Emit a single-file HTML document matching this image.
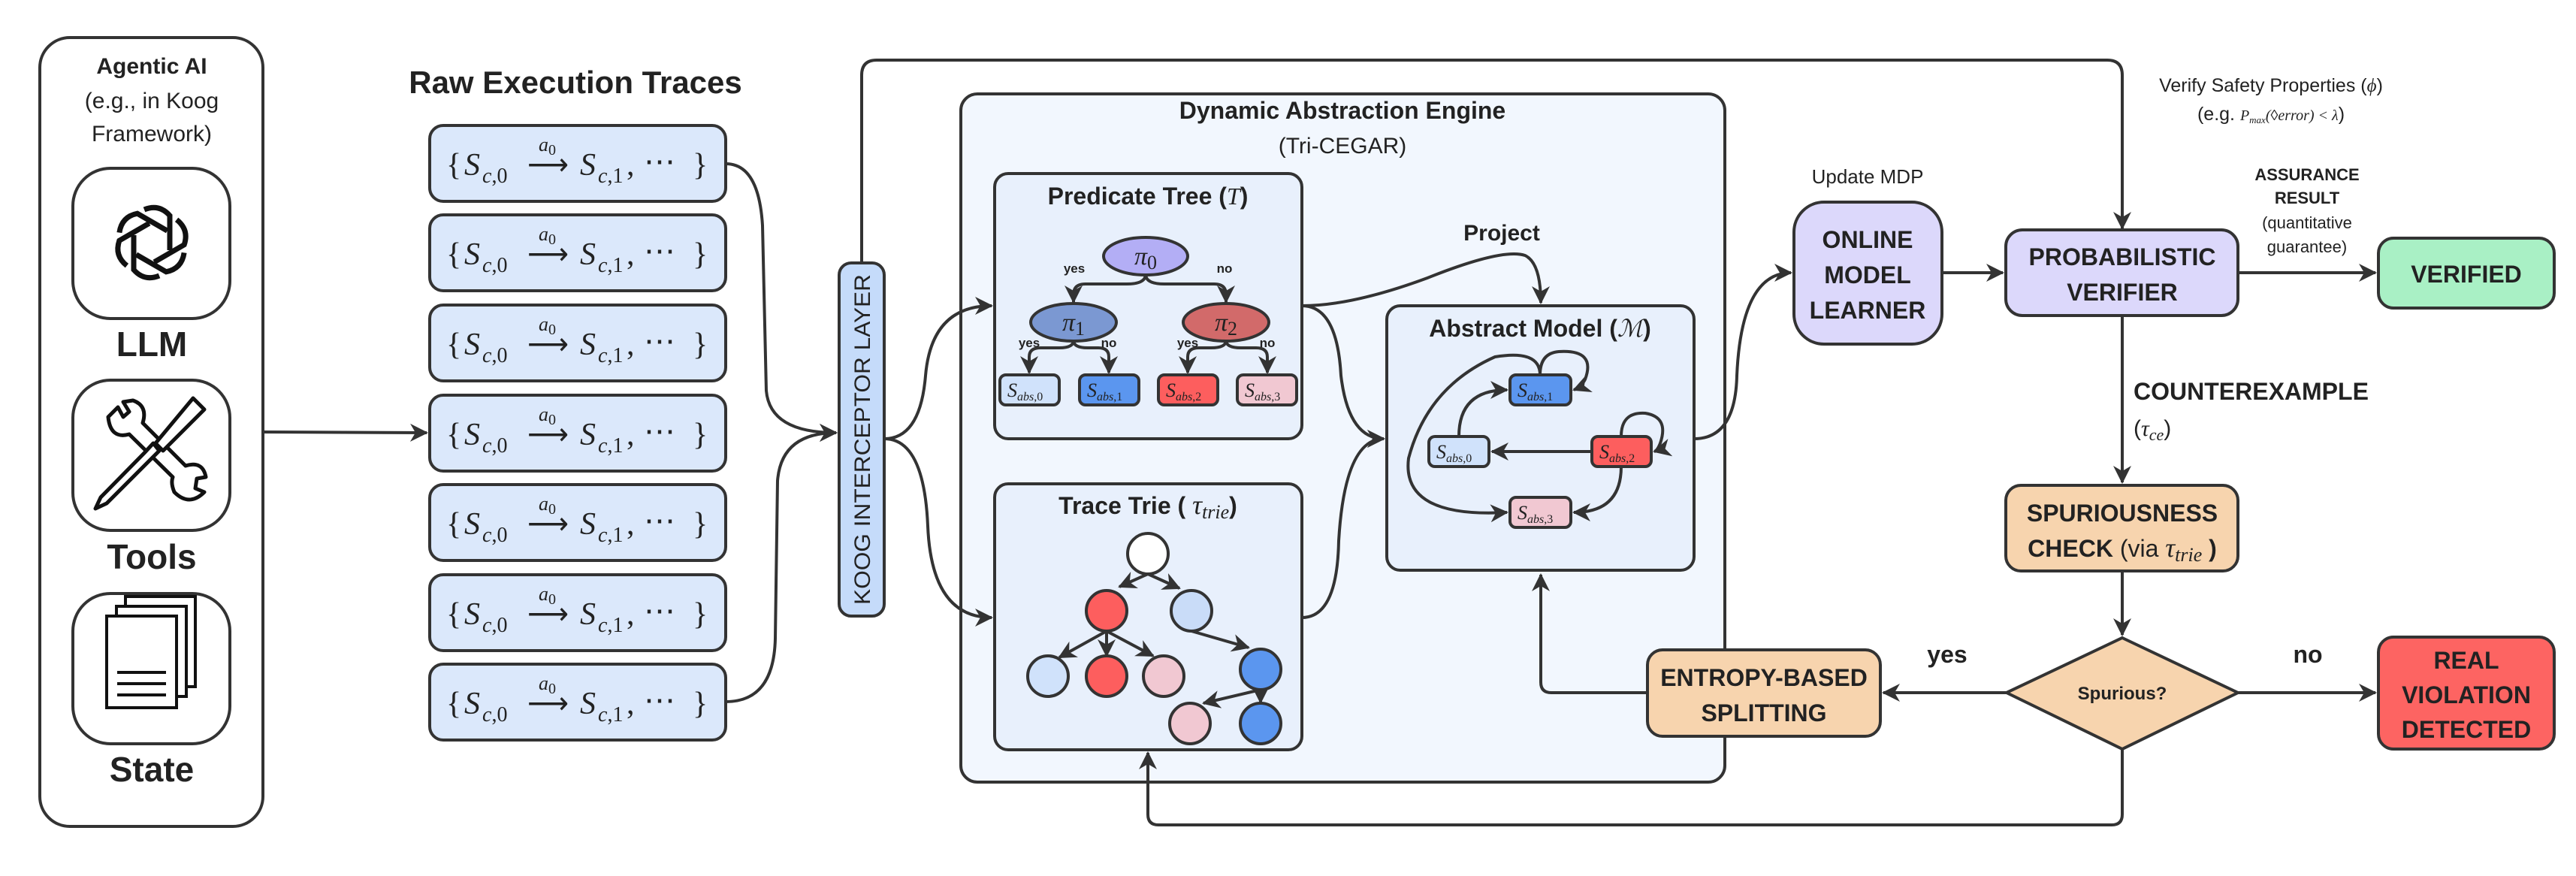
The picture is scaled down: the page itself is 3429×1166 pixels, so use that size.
<!DOCTYPE html>
<html><head><meta charset="utf-8"><style>
html,body{margin:0;padding:0;background:#fff;}
svg{display:block;}
.t{font-family:"Liberation Sans",sans-serif;fill:#222;}
.b{font-weight:bold;}
.m{font-family:"Liberation Serif",serif;font-style:italic;fill:#222;}
.r{font-family:"Liberation Serif",serif;fill:#222;}
</style></head><body>
<svg width="3429" height="1166" viewBox="0 0 3429 1166" xmlns="http://www.w3.org/2000/svg">
<defs>
<marker id="ah" viewBox="0 0 12 12" refX="11" refY="6" markerWidth="24" markerHeight="24" orient="auto" markerUnits="userSpaceOnUse">
<path d="M0,0 L12,6 L0,12 L3.5,6 z" fill="#333"/>
</marker>
</defs>
<g fill="none" stroke="#333" stroke-width="4">
<rect x="53" y="50" width="297" height="1050" rx="40" fill="#fff"/>
<rect x="97" y="224" width="209" height="200" rx="50" fill="#fff"/>
<rect x="97" y="506" width="209" height="200" rx="50" fill="#fff"/>
<rect x="97" y="790" width="209" height="200" rx="50" fill="#fff"/>
</g>
<text class="t b" x="202" y="98" font-size="30" text-anchor="middle">Agentic AI</text>
<text class="t" x="202" y="144" font-size="30" text-anchor="middle">(e.g., in Koog</text>
<text class="t" x="202" y="188" font-size="30" text-anchor="middle">Framework)</text>
<text class="t b" x="202" y="474" font-size="46" text-anchor="middle">LLM</text>
<text class="t b" x="202" y="757" font-size="46" text-anchor="middle">Tools</text>
<text class="t b" x="202" y="1040" font-size="46" text-anchor="middle">State</text>
<g transform="translate(202,323)" fill="none" stroke="#111" stroke-width="7">
<path d="M-10,-44 Q10,-52 24,-36 L24,10" transform="rotate(0)"/>
<path d="M-10,-44 Q10,-52 24,-36 L24,10" transform="rotate(60)"/>
<path d="M-10,-44 Q10,-52 24,-36 L24,10" transform="rotate(120)"/>
<path d="M-10,-44 Q10,-52 24,-36 L24,10" transform="rotate(180)"/>
<path d="M-10,-44 Q10,-52 24,-36 L24,10" transform="rotate(240)"/>
<path d="M-10,-44 Q10,-52 24,-36 L24,10" transform="rotate(300)"/>
</g>
<g transform="translate(202,605)" fill="#fff" stroke="#111" stroke-width="5" stroke-linejoin="round">
<path d="M-58,-50 L-45,-63 L-38,-50 L-30,-57 L-38,-70 L-25,-72 Q-5,-65 -12,-42 L45,15 Q68,8 72,30 L60,32 L58,45 L70,50 Q50,70 30,50 Q25,38 28,30 L-30,-27 Q-55,-20 -58,-50 z"/>
<path d="M55,-75 L70,-60 L15,-5 L5,-15 z"/>
<path d="M10,-5 L-2,7 L-60,65 L-75,72 L-68,57 L-10,-2 L2,-15 z"/>
</g>
<g fill="#fff" stroke="#111" stroke-width="4">
<rect x="167" y="794" width="93" height="120"/>
<rect x="155" y="807" width="93" height="120"/>
<rect x="142" y="820" width="93" height="122"/>
<line x1="156" y1="895" x2="221" y2="895"/>
<line x1="156" y1="910" x2="221" y2="910"/>
<line x1="156" y1="925" x2="221" y2="925"/>
</g>

<text class="t b" x="766" y="124" font-size="42" text-anchor="middle">Raw Execution Traces</text>
<g fill="#dbe8fb" stroke="#333" stroke-width="4">
<rect x="572" y="167" width="394" height="101" rx="18"/>
<rect x="572" y="286" width="394" height="101" rx="18"/>
<rect x="572" y="406" width="394" height="101" rx="18"/>
<rect x="572" y="526" width="394" height="101" rx="18"/>
<rect x="572" y="645" width="394" height="101" rx="18"/>
<rect x="572" y="765" width="394" height="101" rx="18"/>
<rect x="572" y="884" width="394" height="101" rx="18"/>
</g>
<g font-size="42">
<g transform="translate(572,167)"><text class="r" x="22" y="66">{</text><text class="m" x="46" y="66">S</text><text class="m" x="70" y="76" font-size="28">c<tspan class="r" font-style="normal">,0</tspan></text><text class="r" x="130" y="66" textLength="55" lengthAdjust="spacingAndGlyphs">⟶</text><text class="m" x="145" y="34" font-size="26">a<tspan class="r" font-style="normal" font-size="20" dy="5">0</tspan></text><text class="m" x="200" y="66">S</text><text class="m" x="224" y="76" font-size="28">c<tspan class="r" font-style="normal">,1</tspan></text><text class="r" x="262" y="66">,</text><text class="r" x="285" y="62">⋯</text><text class="r" x="350" y="66">}</text></g>
<g transform="translate(572,286)"><text class="r" x="22" y="66">{</text><text class="m" x="46" y="66">S</text><text class="m" x="70" y="76" font-size="28">c<tspan class="r" font-style="normal">,0</tspan></text><text class="r" x="130" y="66" textLength="55" lengthAdjust="spacingAndGlyphs">⟶</text><text class="m" x="145" y="34" font-size="26">a<tspan class="r" font-style="normal" font-size="20" dy="5">0</tspan></text><text class="m" x="200" y="66">S</text><text class="m" x="224" y="76" font-size="28">c<tspan class="r" font-style="normal">,1</tspan></text><text class="r" x="262" y="66">,</text><text class="r" x="285" y="62">⋯</text><text class="r" x="350" y="66">}</text></g>
<g transform="translate(572,406)"><text class="r" x="22" y="66">{</text><text class="m" x="46" y="66">S</text><text class="m" x="70" y="76" font-size="28">c<tspan class="r" font-style="normal">,0</tspan></text><text class="r" x="130" y="66" textLength="55" lengthAdjust="spacingAndGlyphs">⟶</text><text class="m" x="145" y="34" font-size="26">a<tspan class="r" font-style="normal" font-size="20" dy="5">0</tspan></text><text class="m" x="200" y="66">S</text><text class="m" x="224" y="76" font-size="28">c<tspan class="r" font-style="normal">,1</tspan></text><text class="r" x="262" y="66">,</text><text class="r" x="285" y="62">⋯</text><text class="r" x="350" y="66">}</text></g>
<g transform="translate(572,526)"><text class="r" x="22" y="66">{</text><text class="m" x="46" y="66">S</text><text class="m" x="70" y="76" font-size="28">c<tspan class="r" font-style="normal">,0</tspan></text><text class="r" x="130" y="66" textLength="55" lengthAdjust="spacingAndGlyphs">⟶</text><text class="m" x="145" y="34" font-size="26">a<tspan class="r" font-style="normal" font-size="20" dy="5">0</tspan></text><text class="m" x="200" y="66">S</text><text class="m" x="224" y="76" font-size="28">c<tspan class="r" font-style="normal">,1</tspan></text><text class="r" x="262" y="66">,</text><text class="r" x="285" y="62">⋯</text><text class="r" x="350" y="66">}</text></g>
<g transform="translate(572,645)"><text class="r" x="22" y="66">{</text><text class="m" x="46" y="66">S</text><text class="m" x="70" y="76" font-size="28">c<tspan class="r" font-style="normal">,0</tspan></text><text class="r" x="130" y="66" textLength="55" lengthAdjust="spacingAndGlyphs">⟶</text><text class="m" x="145" y="34" font-size="26">a<tspan class="r" font-style="normal" font-size="20" dy="5">0</tspan></text><text class="m" x="200" y="66">S</text><text class="m" x="224" y="76" font-size="28">c<tspan class="r" font-style="normal">,1</tspan></text><text class="r" x="262" y="66">,</text><text class="r" x="285" y="62">⋯</text><text class="r" x="350" y="66">}</text></g>
<g transform="translate(572,765)"><text class="r" x="22" y="66">{</text><text class="m" x="46" y="66">S</text><text class="m" x="70" y="76" font-size="28">c<tspan class="r" font-style="normal">,0</tspan></text><text class="r" x="130" y="66" textLength="55" lengthAdjust="spacingAndGlyphs">⟶</text><text class="m" x="145" y="34" font-size="26">a<tspan class="r" font-style="normal" font-size="20" dy="5">0</tspan></text><text class="m" x="200" y="66">S</text><text class="m" x="224" y="76" font-size="28">c<tspan class="r" font-style="normal">,1</tspan></text><text class="r" x="262" y="66">,</text><text class="r" x="285" y="62">⋯</text><text class="r" x="350" y="66">}</text></g>
<g transform="translate(572,884)"><text class="r" x="22" y="66">{</text><text class="m" x="46" y="66">S</text><text class="m" x="70" y="76" font-size="28">c<tspan class="r" font-style="normal">,0</tspan></text><text class="r" x="130" y="66" textLength="55" lengthAdjust="spacingAndGlyphs">⟶</text><text class="m" x="145" y="34" font-size="26">a<tspan class="r" font-style="normal" font-size="20" dy="5">0</tspan></text><text class="m" x="200" y="66">S</text><text class="m" x="224" y="76" font-size="28">c<tspan class="r" font-style="normal">,1</tspan></text><text class="r" x="262" y="66">,</text><text class="r" x="285" y="62">⋯</text><text class="r" x="350" y="66">}</text></g>
</g>

<rect x="1279" y="125" width="1017" height="916" rx="22" fill="#f2f7fe" stroke="#333" stroke-width="4"/>
<text class="t b" x="1787" y="158" font-size="32" text-anchor="middle">Dynamic Abstraction Engine</text>
<text class="t" x="1787" y="204" font-size="30" text-anchor="middle">(Tri-CEGAR)</text>
<path d="M1147,350 L1147,100 Q1147,80 1167,80 L2805,80 Q2825,80 2825,100 L2825,304" fill="none" stroke="#333" stroke-width="4" marker-end="url(#ah)"/>
<rect x="1117" y="350" width="60" height="470" rx="16" fill="#c5dbfa" stroke="#333" stroke-width="4"/>
<text class="t" x="0" y="0" font-size="30" text-anchor="middle" textLength="440" lengthAdjust="spacingAndGlyphs" transform="translate(1158,585) rotate(-90)">KOOG INTERCEPTOR LAYER</text>

<rect x="1324" y="231" width="409" height="353" rx="18" fill="#e8f0fc" stroke="#333" stroke-width="4"/>
<text class="t b" x="1528" y="272" font-size="32" text-anchor="middle">Predicate Tree (<tspan class="m" font-weight="normal">T</tspan>)</text>
<g fill="none" stroke="#333" stroke-width="4">
<path d="M1525,365 Q1525,378 1500,378 L1445,378 Q1429,378 1429,392 L1429,402" marker-end="url(#ah)"/>
<path d="M1525,365 Q1525,378 1550,378 L1616,378 Q1632,378 1632,392 L1632,402" marker-end="url(#ah)"/>
<path d="M1429,453 Q1429,463 1410,463 L1385,463 Q1370,463 1370,475 L1370,496" marker-end="url(#ah)"/>
<path d="M1429,453 Q1429,463 1448,463 L1462,463 Q1476,463 1476,475 L1476,496" marker-end="url(#ah)"/>
<path d="M1632,453 Q1632,463 1612,463 L1596,463 Q1581,463 1581,475 L1581,496" marker-end="url(#ah)"/>
<path d="M1632,453 Q1632,463 1652,463 L1672,463 Q1687,463 1687,475 L1687,496" marker-end="url(#ah)"/>
</g>
<ellipse cx="1525" cy="341" rx="56" ry="25" fill="#b3aef5" stroke="#333" stroke-width="4"/>
<ellipse cx="1429" cy="429" rx="57" ry="25" fill="#7b98d2" stroke="#333" stroke-width="4"/>
<ellipse cx="1632" cy="429" rx="57" ry="25" fill="#d26a6a" stroke="#333" stroke-width="4"/>
<text class="m" x="1510" y="352" font-size="34">π<tspan class="r" font-style="normal" font-size="26" dy="6">0</tspan></text>
<text class="m" x="1414" y="440" font-size="34">π<tspan class="r" font-style="normal" font-size="26" dy="6">1</tspan></text>
<text class="m" x="1617" y="440" font-size="34">π<tspan class="r" font-style="normal" font-size="26" dy="6">2</tspan></text>
<g class="t b" font-size="17" text-anchor="middle">
<text x="1430" y="363">yes</text><text x="1630" y="363">no</text>
<text x="1370" y="462">yes</text><text x="1476" y="462">no</text>
<text x="1581" y="462">yes</text><text x="1687" y="462">no</text>
</g>
<g stroke="#333" stroke-width="4">
<rect x="1331" y="499" width="79" height="40" rx="8" fill="#d0e2fb"/>
<rect x="1437" y="499" width="79" height="40" rx="8" fill="#5b96ef"/>
<rect x="1542" y="499" width="79" height="40" rx="8" fill="#fd5e5e"/>
<rect x="1647" y="499" width="79" height="40" rx="8" fill="#f1c8d2"/>
</g>
<g font-size="26">
<text class="m" x="1341" y="528">S<tspan font-size="16" dy="5">abs</tspan><tspan class="r" font-style="normal" font-size="16">,0</tspan></text>
<text class="m" x="1447" y="528">S<tspan font-size="16" dy="5">abs</tspan><tspan class="r" font-style="normal" font-size="16">,1</tspan></text>
<text class="m" x="1552" y="528">S<tspan font-size="16" dy="5">abs</tspan><tspan class="r" font-style="normal" font-size="16">,2</tspan></text>
<text class="m" x="1657" y="528">S<tspan font-size="16" dy="5">abs</tspan><tspan class="r" font-style="normal" font-size="16">,3</tspan></text>
</g>

<rect x="1324" y="644" width="409" height="354" rx="18" fill="#e8f0fc" stroke="#333" stroke-width="4"/>
<text class="t b" x="1528" y="684" font-size="32" text-anchor="middle">Trace Trie (<tspan class="m" font-weight="normal" font-size="36"> τ<tspan font-size="26" dy="6">trie</tspan></tspan><tspan dy="-6">)</tspan></text>
<g fill="none" stroke="#333" stroke-width="4">
<path d="M1528,764 L1490,781" marker-end="url(#ah)"/>
<path d="M1528,764 L1570,783" marker-end="url(#ah)"/>
<path d="M1473,840 L1410,875" marker-end="url(#ah)"/>
<path d="M1473,840 L1473,873" marker-end="url(#ah)"/>
<path d="M1473,840 L1535,873" marker-end="url(#ah)"/>
<path d="M1586,840 L1662,862" marker-end="url(#ah)"/>
<path d="M1678,918 L1602,936" marker-end="url(#ah)"/>
<path d="M1678,918 L1678,935" marker-end="url(#ah)"/>
</g>
<g stroke="#333" stroke-width="4">
<circle cx="1528" cy="737" r="27" fill="#fff"/>
<circle cx="1473" cy="813" r="27" fill="#fd5e5e"/>
<circle cx="1586" cy="813" r="27" fill="#c9dcf8"/>
<circle cx="1395" cy="900" r="27" fill="#d0e2fb"/>
<circle cx="1473" cy="900" r="27" fill="#fd5e5e"/>
<circle cx="1549" cy="900" r="27" fill="#f1c8d2"/>
<circle cx="1678" cy="891" r="27" fill="#5b96ef"/>
<circle cx="1584" cy="963" r="27" fill="#f1c8d2"/>
<circle cx="1678" cy="963" r="27" fill="#5b96ef"/>
</g>

<rect x="1846" y="407" width="409" height="352" rx="18" fill="#e8f0fc" stroke="#333" stroke-width="4"/>
<text class="t b" x="2050" y="448" font-size="32" text-anchor="middle">Abstract Model (<tspan class="m" font-weight="normal">ℳ</tspan>)</text>
<text class="t b" x="1999" y="320" font-size="30" text-anchor="middle">Project</text>
<g fill="none" stroke="#333" stroke-width="4">
<path d="M1942,581 Q1942,519 2006,519" marker-end="url(#ah)"/>
<path d="M2119,601 L1986,601" marker-end="url(#ah)"/>
<path d="M2158,621 Q2158,682 2095,682" marker-end="url(#ah)"/>
<path d="M2050,499 Q2050,470 2075,468 Q2125,465 2110,505 Q2105,515 2095,519" marker-end="url(#ah)"/>
<path d="M2158,581 Q2158,548 2190,550 Q2222,555 2210,590 Q2206,600 2202,601" marker-end="url(#ah)"/>
<path d="M2050,499 Q2050,465 1990,475 Q1900,515 1875,610 Q1865,690 2006,682" marker-end="url(#ah)"/>
</g>
<g stroke="#333" stroke-width="4">
<rect x="2010" y="499" width="81" height="40" rx="8" fill="#5b96ef"/>
<rect x="1902" y="581" width="80" height="40" rx="8" fill="#d0e2fb"/>
<rect x="2119" y="581" width="79" height="40" rx="8" fill="#fd5e5e"/>
<rect x="2010" y="662" width="81" height="40" rx="8" fill="#f1c8d2"/>
</g>
<g font-size="26">
<text class="m" x="2020" y="528">S<tspan font-size="16" dy="5">abs</tspan><tspan class="r" font-style="normal" font-size="16">,1</tspan></text>
<text class="m" x="1912" y="610">S<tspan font-size="16" dy="5">abs</tspan><tspan class="r" font-style="normal" font-size="16">,0</tspan></text>
<text class="m" x="2129" y="610">S<tspan font-size="16" dy="5">abs</tspan><tspan class="r" font-style="normal" font-size="16">,2</tspan></text>
<text class="m" x="2020" y="691">S<tspan font-size="16" dy="5">abs</tspan><tspan class="r" font-style="normal" font-size="16">,3</tspan></text>
</g>

<g fill="none" stroke="#333" stroke-width="4">
<path d="M350,575 L568,576" marker-end="url(#ah)"/>
<path d="M966,218 Q1010,218 1015,300 L1020,520 Q1025,576 1113,576" marker-end="url(#ah)"/>
<path d="M966,934 Q1030,934 1032,850 L1035,640 Q1040,576 1113,576" marker-end="url(#ah)"/>
<path d="M1177,584 Q1225,584 1232,500 Q1240,407 1320,407" marker-end="url(#ah)"/>
<path d="M1177,584 Q1230,584 1235,700 Q1240,822 1320,822" marker-end="url(#ah)"/>
<path d="M1733,407 Q1780,407 1785,500 Q1795,584 1842,584" marker-end="url(#ah)"/>
<path d="M1733,822 Q1780,822 1782,720 Q1790,584 1842,584" marker-end="url(#ah)"/>
<path d="M1733,407 Q1800,407 1900,370 Q2000,330 2030,340 Q2051,350 2051,403" marker-end="url(#ah)"/>
<path d="M2255,584 Q2310,584 2312,500 Q2318,363 2384,363" marker-end="url(#ah)"/>
<path d="M2585,363 L2666,363" marker-end="url(#ah)"/>
<path d="M2979,363 L3162,363" marker-end="url(#ah)"/>
<path d="M2825,420 L2825,642" marker-end="url(#ah)"/>
<path d="M2825,760 L2825,845" marker-end="url(#ah)"/>
<path d="M2671,922 L2507,922" marker-end="url(#ah)"/>
<path d="M2979,922 L3162,922" marker-end="url(#ah)"/>
<path d="M2193,922 L2065,922 Q2051,922 2051,908 L2051,765" marker-end="url(#ah)"/>
<path d="M2825,997 L2825,1084 Q2825,1098 2811,1098 L1542,1098 Q1528,1098 1528,1084 L1528,1002" marker-end="url(#ah)"/>
</g>

<text class="t" x="2486" y="244" font-size="26" text-anchor="middle">Update MDP</text>
<rect x="2388" y="269" width="197" height="189" rx="40" fill="#dcd8fb" stroke="#333" stroke-width="4"/>
<g class="t b" font-size="32" text-anchor="middle">
<text x="2486" y="330">ONLINE</text><text x="2486" y="377">MODEL</text><text x="2486" y="424">LEARNER</text>
</g>
<rect x="2670" y="306" width="309" height="114" rx="22" fill="#dcd8fb" stroke="#333" stroke-width="4"/>
<g class="t b" font-size="32" text-anchor="middle">
<text x="2825" y="353">PROBABILISTIC</text><text x="2825" y="400">VERIFIER</text>
</g>
<text class="t" x="3023" y="122" font-size="25" text-anchor="middle">Verify Safety Properties (<tspan class="m">ϕ</tspan>)</text>
<text class="t" x="3023" y="160" font-size="25" text-anchor="middle">(e.g. <tspan class="m" font-size="20">P<tspan font-size="13" dy="4">max</tspan><tspan dy="-4">(◊error) &lt; λ</tspan></tspan>)</text>
<g class="t" font-size="22" text-anchor="middle">
<text class="b" x="3071" y="240">ASSURANCE</text><text class="b" x="3071" y="271">RESULT</text>
<text x="3071" y="304">(quantitative</text><text x="3071" y="336">guarantee)</text>
</g>
<rect x="3166" y="317" width="234" height="93" rx="20" fill="#a9f0c5" stroke="#333" stroke-width="4"/>
<text class="t b" x="3283" y="376" font-size="32" text-anchor="middle">VERIFIED</text>
<text class="t b" x="2840" y="532" font-size="32">COUNTEREXAMPLE</text>
<text class="t" x="2840" y="580" font-size="30">(<tspan class="m">τ<tspan font-size="22" dy="6">ce</tspan></tspan><tspan dy="-6">)</tspan></text>
<rect x="2670" y="646" width="309" height="114" rx="20" fill="#f7d4ae" stroke="#333" stroke-width="4"/>
<g class="t b" font-size="32" text-anchor="middle">
<text x="2825" y="694">SPURIOUSNESS</text><text x="2825" y="741">CHECK <tspan font-weight="normal">(via </tspan><tspan class="m" font-weight="normal" font-size="36">τ<tspan font-size="26" dy="6">trie</tspan></tspan><tspan dy="-6"> )</tspan></text>
</g>
<path d="M2825,849 L2979,922 L2825,997 L2671,922 z" fill="#f7d4ae" stroke="#333" stroke-width="4"/>
<text class="t b" x="2825" y="931" font-size="24" text-anchor="middle">Spurious?</text>
<text class="t b" x="2592" y="882" font-size="32" text-anchor="middle">yes</text>
<text class="t b" x="3072" y="882" font-size="32" text-anchor="middle">no</text>
<rect x="2193" y="865" width="310" height="115" rx="20" fill="#f7d4ae" stroke="#333" stroke-width="4"/>
<g class="t b" font-size="32" text-anchor="middle">
<text x="2348" y="913">ENTROPY-BASED</text><text x="2348" y="960">SPLITTING</text>
</g>
<rect x="3166" y="848" width="234" height="149" rx="20" fill="#fd6462" stroke="#333" stroke-width="4"/>
<g class="t b" font-size="32" text-anchor="middle">
<text x="3283" y="890">REAL</text><text x="3283" y="936">VIOLATION</text><text x="3283" y="982">DETECTED</text>
</g>
</svg>
</body></html>
